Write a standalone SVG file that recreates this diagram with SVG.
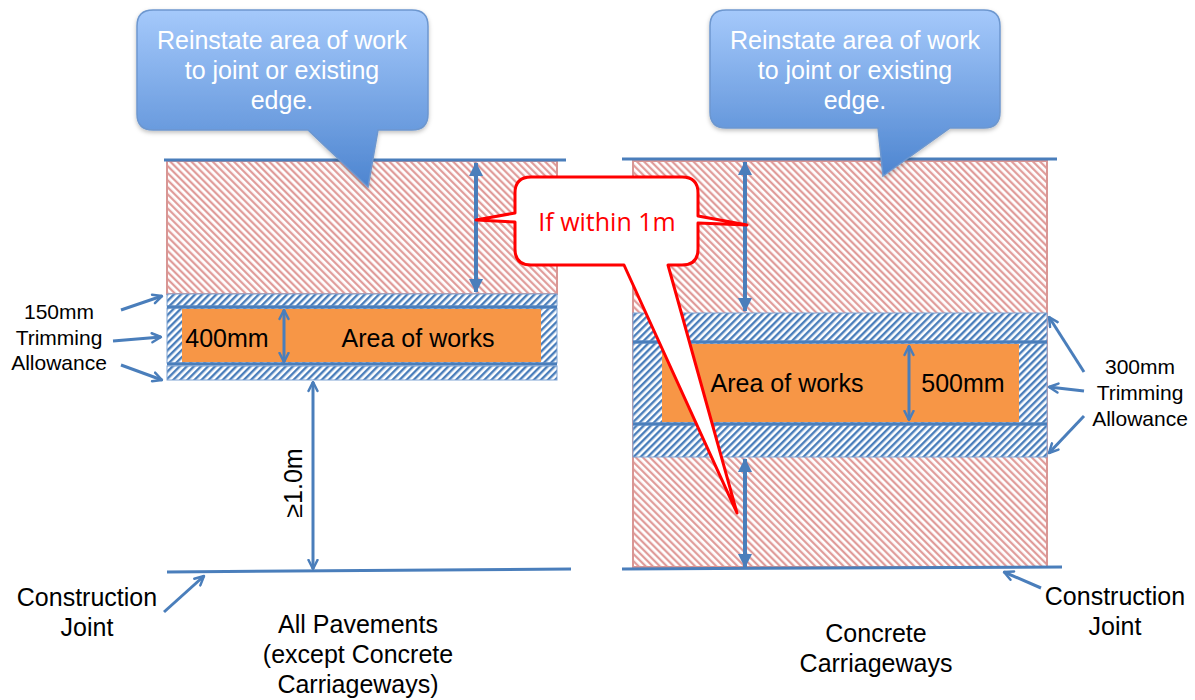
<svg xmlns="http://www.w3.org/2000/svg" width="1195" height="700" viewBox="0 0 1195 700">
<style>
.t{font-family:"Liberation Sans",Arial,sans-serif;font-size:25px;fill:#000;text-anchor:middle}
.s{font-family:"Liberation Sans",Arial,sans-serif;font-size:21px;fill:#000;text-anchor:middle}
.w{font-family:"Liberation Sans",Arial,sans-serif;font-size:25px;fill:#fff;text-anchor:middle}
.r{font-family:"Open Sans","Liberation Sans",sans-serif;font-size:25px;fill:#ff0000;text-anchor:middle}
.pink{fill:url(#pk);stroke:#d99694;stroke-width:2}
.band{fill:url(#bh);stroke:#7fa3d3;stroke-width:1}
.org{fill:#f79646}
.bl{stroke:#4a7ebb;stroke-width:3;fill:none}
.thick{stroke:#4a7ebb;stroke-width:4;fill:none;marker-start:url(#tri);marker-end:url(#tri)}
.thin{stroke:#4a7ebb;stroke-width:3;fill:none;marker-start:url(#vee);marker-end:url(#vee)}
.lab{stroke:#4a7ebb;stroke-width:3;fill:none;marker-end:url(#vee)}
.call{fill:url(#cg);stroke:#6d97cf;stroke-width:1.5;filter:url(#sh)}
</style>
<defs>
<pattern id="pk" patternUnits="userSpaceOnUse" width="5" height="5" patternTransform="rotate(-45)">
<rect width="5" height="5" fill="#fff"/><line x1="1.2" y1="0" x2="1.2" y2="5" stroke="#de9593" stroke-width="2.1"/>
</pattern>
<pattern id="bh" patternUnits="userSpaceOnUse" width="5" height="5" patternTransform="rotate(45)">
<rect width="5" height="5" fill="#fff"/><line x1="1.2" y1="0" x2="1.2" y2="5" stroke="#4a7ebb" stroke-width="2.4"/>
</pattern>
<linearGradient id="cg" x1="0" y1="0" x2="0" y2="1">
<stop offset="0" stop-color="#a5c9fb"/><stop offset="1" stop-color="#4d85d0"/>
</linearGradient>
<filter id="sh" x="-10%" y="-10%" width="120%" height="130%">
<feDropShadow dx="0" dy="2" stdDeviation="2" flood-color="#000" flood-opacity="0.25"/>
</filter>
<marker id="tri" viewBox="0 0 14 14" refX="13" refY="7" markerWidth="14" markerHeight="14" orient="auto-start-reverse" markerUnits="userSpaceOnUse">
<path d="M0,0 L14,7 L0,14 Z" fill="#4a7ebb"/>
</marker>
<marker id="vee" viewBox="0 0 12 12" refX="10.5" refY="6" markerWidth="12" markerHeight="12" orient="auto-start-reverse" markerUnits="userSpaceOnUse">
<path d="M1.5,1.5 L10.5,6 L1.5,10.5" fill="none" stroke="#4a7ebb" stroke-width="2.5" stroke-linecap="round" stroke-linejoin="round"/>
</marker>
</defs>
<rect width="1195" height="700" fill="#fff"/>

<g id="left-diagram">
<rect class="pink" x="167" y="161" width="390" height="133"/>
<rect class="band" x="167" y="294" width="390" height="12"/>
<rect class="band" x="167" y="308" width="390" height="55"/>
<rect class="org" x="182" y="309" width="359" height="53"/>
<rect class="band" x="167" y="366" width="390" height="14"/>
<line class="bl" x1="167" y1="307" x2="557" y2="307"/>
<line class="bl" x1="167" y1="364" x2="557" y2="364"/>
<line class="bl" x1="164" y1="160" x2="566" y2="160"/>
<line class="bl" x1="167" y1="572" x2="571" y2="569"/>
<text class="t" x="227" y="347">400mm</text>
<text class="t" x="418" y="347">Area of works</text>
</g>

<g id="right-diagram">
<rect class="pink" x="633" y="161" width="414" height="406"/>
<rect class="band" x="633" y="313" width="414" height="28"/>
<rect class="band" x="633" y="343" width="414" height="80"/>
<rect class="org" x="662" y="344" width="357" height="78"/>
<rect class="band" x="633" y="425" width="414" height="32"/>
<line class="bl" x1="633" y1="342" x2="1047" y2="342"/>
<line class="bl" x1="633" y1="424" x2="1047" y2="424"/>
<line class="bl" x1="622" y1="159" x2="1057" y2="159"/>
<line class="bl" x1="622" y1="569" x2="1062" y2="567"/>
<text class="t" x="787" y="392">Area of works</text>
<text class="t" x="963" y="392">500mm</text>
</g>

<g id="connectors">
<line class="thick" x1="476" y1="163" x2="476" y2="292"/>
<line class="thin" x1="284" y1="310" x2="284" y2="362"/>
<line class="thin" x1="313" y1="382" x2="313" y2="569"/>
<line class="thick" x1="745" y1="162" x2="745" y2="311"/>
<line class="thin" x1="909" y1="346" x2="909" y2="420"/>
<line class="thick" x1="745" y1="459" x2="745" y2="567"/>
<line class="lab" x1="121" y1="310" x2="162" y2="296"/>
<line class="lab" x1="113" y1="341" x2="161" y2="337"/>
<line class="lab" x1="121" y1="365" x2="162" y2="380"/>
<line class="lab" x1="1084" y1="372" x2="1049" y2="317"/>
<line class="lab" x1="1084" y1="391" x2="1049" y2="387"/>
<line class="lab" x1="1084" y1="416" x2="1049" y2="453"/>
<line class="lab" x1="164" y1="612" x2="204" y2="576"/>
<line class="lab" x1="1041" y1="588" x2="1004" y2="572"/>
</g>

<g id="callout-left">
<path class="call" d="M153,10 H412 Q428,10 428,26 V114 Q428,130 412,130 H378 L368,187 L308,130 H153 Q137,130 137,114 V26 Q137,10 153,10 Z"/>
<text class="w" x="282" y="49">Reinstate area of work</text>
<text class="w" x="282" y="79">to joint or existing</text>
<text class="w" x="282" y="109">edge.</text>
</g>

<g id="callout-right">
<path class="call" d="M726,10 H984 Q1000,10 1000,26 V112 Q1000,128 984,128 H950 L883,176 L878,128 H726 Q710,128 710,112 V26 Q710,10 726,10 Z"/>
<text class="w" x="855" y="49">Reinstate area of work</text>
<text class="w" x="855" y="79">to joint or existing</text>
<text class="w" x="855" y="109">edge.</text>
</g>

<g id="callout-red">
<path d="M531,177 H682 Q698,177 698,193 V216 L747,225 L698,223 V249 Q698,265 682,265 H668 L737,513 L624,265 H531 Q515,265 515,249 V222 L476,220 L515,213 V193 Q515,177 531,177 Z" fill="#fff" stroke="#ff0000" stroke-width="3" stroke-linejoin="round"/>
<text class="r" x="607" y="231">If within 1m</text>
</g>

<g id="labels">
<text class="s" x="59" y="319">150mm</text>
<text class="s" x="59" y="345">Trimming</text>
<text class="s" x="59" y="370">Allowance</text>
<text class="s" x="1140" y="374">300mm</text>
<text class="s" x="1140" y="400">Trimming</text>
<text class="s" x="1140" y="426">Allowance</text>
<text class="t" transform="translate(302,483) rotate(-90)">≥1.0m</text>
<text class="t" x="87" y="606">Construction</text>
<text class="t" x="87" y="636">Joint</text>
<text class="t" x="1115" y="605">Construction</text>
<text class="t" x="1115" y="635">Joint</text>
<text class="t" x="358" y="633">All Pavements</text>
<text class="t" x="358" y="663">(except Concrete</text>
<text class="t" x="358" y="693">Carriageways)</text>
<text class="t" x="876" y="642">Concrete</text>
<text class="t" x="876" y="672">Carriageways</text>
</g>
</svg>
